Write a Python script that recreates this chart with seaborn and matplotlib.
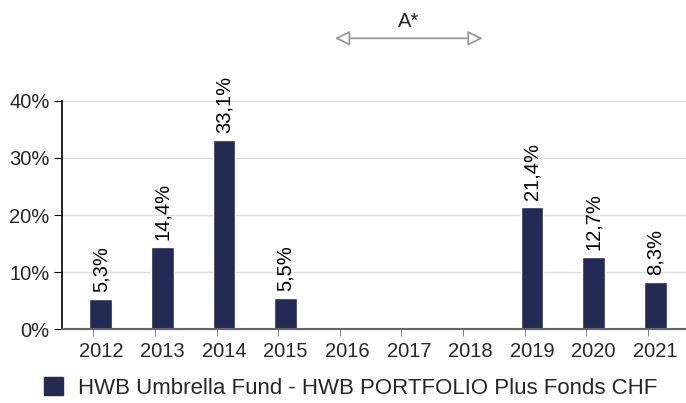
import numpy as np
import pandas as pd
import matplotlib.pyplot as plt
import seaborn as sns
from matplotlib.patches import Patch

# data
years = ['2012', '2013', '2014', '2015', '2016', '2017', '2018', '2019', '2020', '2021']
returns = [5.3, 14.4, 33.1, 5.5, np.nan, np.nan, np.nan, 21.4, 12.7, 8.3]
y_ticks = [0, 10, 20, 30, 40]
series_name = 'HWB Umbrella Fund - HWB PORTFOLIO Plus Fonds CHF'
arrow_label = 'A*'

df = pd.DataFrame({'year': years, 'ret': returns})

sns.set_style('white')
plt.rcParams['font.family'] = ['Liberation Sans', 'DejaVu Sans']

bar_color = '#232b55'
fs = 14.5

fig = plt.figure(figsize=(6.86, 4.03), dpi=100)
ax = fig.add_axes([0.0904, 0.1836, 0.9096, 0.5658])

sns.barplot(data=df.dropna(), x='year', y='ret', order=years, color=bar_color,
            width=0.37, saturation=1, ax=ax)

# value labels above bars
for i, v in enumerate(returns):
    if np.isnan(v):
        continue
    ax.annotate(f"{v:.1f}%".replace('.', ','), (i, v), xytext=(0, 5),
                textcoords='offset points', rotation=90, ha='center', va='bottom',
                fontsize=fs, color='black')

ax.set_ylim(0, 40)
ax.set_xlim(-0.63, 9.5)
ax.set_yticks(y_ticks)
ax.set_yticklabels([f"{t}%" for t in y_ticks], fontsize=fs)
# tick marks sit a bit left of the labels in the original
ax.set_xticks(np.arange(len(years)) - 0.12, minor=True)
ax.tick_params(axis='x', which='major', labelsize=fs, length=0, pad=9)
ax.tick_params(axis='x', which='minor', length=5, color='#666666', bottom=True)
ax.tick_params(axis='y', length=6, color='black', left=True, pad=3)
ax.set_xlabel('')
ax.set_ylabel('')
ax.grid(axis='y', color='#dedede', linewidth=1)
ax.set_axisbelow(True)

for s in ['top', 'right']:
    ax.spines[s].set_visible(False)
ax.spines['left'].set_color('black')
ax.spines['left'].set_linewidth(1.2)
ax.spines['bottom'].set_color('#666666')
ax.spines['bottom'].set_linewidth(1.5)

# arrow over the gap years
ax.annotate('', xy=(3.8, 51.0), xytext=(6.2, 51.0), xycoords='data',
            annotation_clip=False,
            arrowprops=dict(arrowstyle='<|-|>,head_length=0.9,head_width=0.45',
                            fc='white', ec='#9a9a9a', lw=1.3, shrinkA=0, shrinkB=0))
ax.text(5, 54.0, arrow_label, ha='center', va='center', fontsize=fs, clip_on=False)

# legend
handle = Patch(facecolor=bar_color, edgecolor=bar_color)
fig.legend([handle], [series_name], loc='center left', bbox_to_anchor=(0.051, 0.037),
           frameon=False, fontsize=16, handlelength=0.85, handleheight=0.85,
           handletextpad=0.7, borderaxespad=0)

fig.savefig('out.png', dpi=100)
